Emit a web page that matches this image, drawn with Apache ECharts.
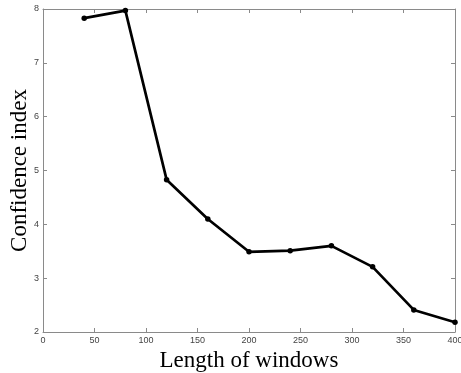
<!DOCTYPE html>
<html><head><meta charset="utf-8">
<script src="https://cdn.jsdelivr.net/npm/echarts@6/dist/echarts.min.js"></script>
<style>html,body{margin:0;padding:0;background:#fff}#c{width:461px;height:373px}</style>
</head><body><div id="c"></div>
<script>
var windowLengths = [40, 80, 120, 160, 200, 240, 280, 320, 360, 400];
var confidence = [7.83, 7.97, 4.83, 4.10, 3.49, 3.51, 3.60, 3.21, 2.41, 2.18];
var xTitle = 'Length of windows';
var yTitle = 'Confidence index';

var data = windowLengths.map(function (x, i) { return [x, confidence[i]]; });
var axisGray = '#8a8a8a';
var labelStyle = { color: '#444', fontFamily: 'Liberation Sans', fontSize: 9, margin: 4 };
var chart = echarts.init(document.getElementById('c'), null, { renderer: 'canvas' });
chart.setOption({
  animation: false,
  backgroundColor: '#fff',
  grid: { left: 43, right: 6, top: 9, bottom: 41, containLabel: false, outerBoundsMode: 'none' },
  xAxis: [{
    type: 'value', min: 0, max: 400, interval: 50, position: 'bottom',
    name: xTitle, nameLocation: 'middle', nameGap: 16,
    nameTextStyle: { fontFamily: 'Liberation Serif', fontSize: 23, color: '#000' },
    axisLine: { onZero: false, lineStyle: { color: axisGray, width: 1 } },
    axisTick: { inside: true, length: 4, lineStyle: { color: axisGray } },
    axisLabel: labelStyle,
    splitLine: { show: false }
  }, {
    type: 'value', min: 0, max: 400, interval: 50, position: 'top',
    axisLine: { onZero: false, lineStyle: { color: axisGray, width: 1 } },
    axisTick: { inside: true, length: 4, lineStyle: { color: axisGray } },
    axisLabel: { show: false }, splitLine: { show: false }
  }],
  yAxis: [{
    type: 'value', min: 2, max: 8, interval: 1, position: 'left',
    name: yTitle, nameLocation: 'middle', nameGap: 12, nameMoveOverlap: false,
    nameTextStyle: { fontFamily: 'Liberation Serif', fontSize: 23, color: '#000' },
    axisLine: { show: true, onZero: false, lineStyle: { color: axisGray, width: 1 } },
    axisTick: { show: true, inside: true, length: 4, lineStyle: { color: axisGray } },
    axisLabel: labelStyle,
    splitLine: { show: false }
  }, {
    type: 'value', min: 2, max: 8, interval: 1, position: 'right',
    axisLine: { show: true, onZero: false, lineStyle: { color: axisGray, width: 1 } },
    axisTick: { show: true, inside: true, length: 4, lineStyle: { color: axisGray } },
    axisLabel: { show: false }, splitLine: { show: false }
  }],
  series: [{
    type: 'line', data: data, xAxisIndex: 0, yAxisIndex: 0,
    lineStyle: { color: '#000', width: 2.7 },
    itemStyle: { color: '#000' },
    symbol: 'circle', symbolSize: 5.5, showSymbol: true
  }]
});
</script></body></html>
